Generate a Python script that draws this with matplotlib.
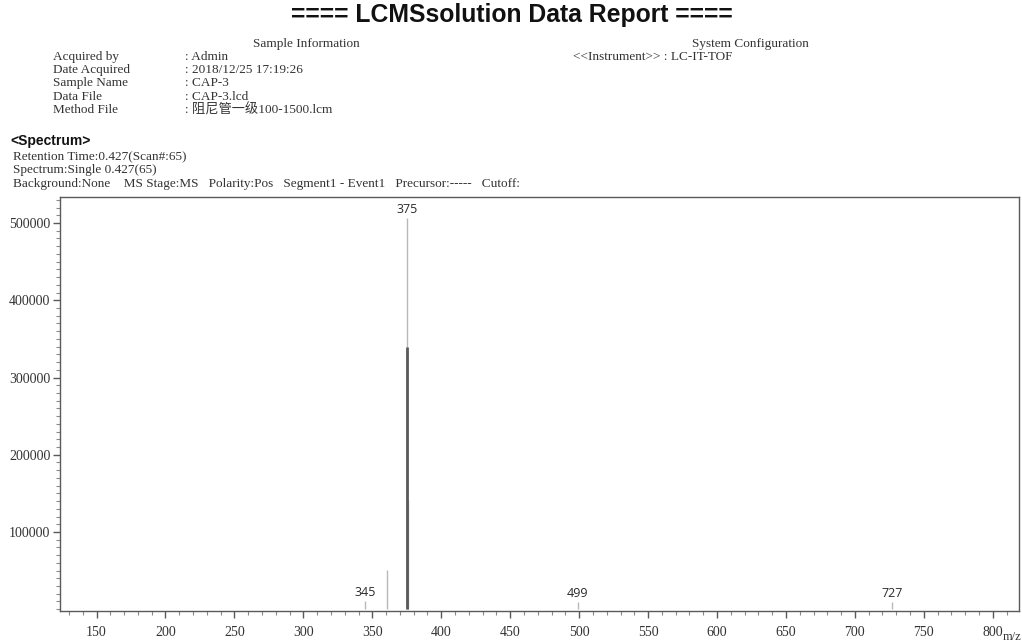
import matplotlib
matplotlib.use("Agg")
import matplotlib.pyplot as plt
from matplotlib.ticker import MultipleLocator, FixedLocator

# Report header
title = "==== LCMSsolution Data Report ===="
info_labels = ["Acquired by", "Date Acquired", "Sample Name", "Data File", "Method File"]
info_values = [": Admin", ": 2018/12/25 17:19:26", ": CAP-3", ": CAP-3.lcd",
               ": 阻尼管一级100-1500.lcm"]
instrument = "<<Instrument>> : LC-IT-TOF"
spectrum_lines = [
    "Retention Time:0.427(Scan#:65)",
    "Spectrum:Single 0.427(65)",
    "Background:None    MS Stage:MS   Polarity:Pos   Segment1 - Event1   Precursor:-----   Cutoff:",
]

# Centroid peaks (m/z, intensity)
peak_mz = [345.0, 361.0, 375.0, 375.2, 376.0, 499.0, 727.0]
peak_int = [11000, 51000, 506000, 339000, 141000, 9500, 9500]
labelled_mz = [345.0, 375.0, 499.0, 727.0]
label_text = ["345", "375", "499", "727"]
strong_mz = [375.2]

x_ticks = [150, 200, 250, 300, 350, 400, 450, 500, 550, 600, 650, 700, 750, 800]
y_ticks = [100000, 200000, 300000, 400000, 500000]

W, H = 1022, 642
fig = plt.figure(figsize=(W / 100, H / 100), dpi=100)
fig.patch.set_facecolor("white")

serif = ["Liberation Serif", "Noto Sans CJK SC", "DejaVu Sans"]
txt_col = "#333333"
info_size = 9.5

def fx(px):
    return px / W

def fy(py):
    return 1 - py / H

fig.text(fx(512), fy(15), title, ha="center", va="center", fontsize=17.8,
         fontweight="bold", family="Liberation Sans", color="#111111")
fig.text(fx(306), fy(44), "Sample Information", ha="center", va="center",
         fontsize=info_size, family=serif, color=txt_col)
fig.text(fx(750), fy(44), "System Configuration", ha="center", va="center",
         fontsize=info_size, family=serif, color=txt_col)
fig.text(fx(573), fy(57), instrument, ha="left", va="center",
         fontsize=info_size, family=serif, color=txt_col)
for i, (lab, val) in enumerate(zip(info_labels, info_values)):
    y = 57 + i * 13.2
    fig.text(fx(53), fy(y), lab, ha="left", va="center", fontsize=info_size,
             family=serif, color=txt_col)
    fig.text(fx(185), fy(y), val, ha="left", va="center", fontsize=info_size,
             family=serif, color=txt_col)

fig.text(fx(10), fy(141), "<Spectrum>", ha="left", va="center", fontsize=10,
         fontweight="bold", family="Liberation Sans", color="#111111")
for i, line in enumerate(spectrum_lines):
    fig.text(fx(13), fy(157 + i * 13.5), line, ha="left", va="center",
             fontsize=info_size, family=serif, color=txt_col)

# Spectrum axes
left, right, top, bottom = 60, 1019, 197, 611
ax = fig.add_axes([fx(left), fy(bottom), (right - left) / W, (bottom - top) / H])
ax.set_xlim(123.5, 819)
ax.set_ylim(-2300, 533700)

for mz, inten in zip(peak_mz, peak_int):
    strong = mz in strong_mz
    ax.vlines(mz, 0, inten, colors="#5a5a5a" if strong else "#b8b8b8",
              linewidth=2.0 if strong else 1.0, zorder=3 if strong else 2)

for mz, text in zip(labelled_mz, label_text):
    inten = peak_int[peak_mz.index(mz)]
    ax.annotate(text, (mz, inten), xytext=(0, 1.5), textcoords="offset points",
                ha="center", va="bottom", fontsize=9, family="Open Sans",
                color="#2a2a2a")

for sp in ax.spines.values():
    sp.set_color("#5a5a5a")
    sp.set_linewidth(1.0)

ax.xaxis.set_major_locator(FixedLocator(x_ticks))
ax.xaxis.set_minor_locator(MultipleLocator(10))
ax.yaxis.set_major_locator(FixedLocator(y_ticks))
ax.yaxis.set_minor_locator(MultipleLocator(10000))
ax.tick_params(which="major", direction="out", length=5, width=1.0,
               color="#5a5a5a", labelsize=10, labelcolor="#333333", pad=2)
ax.tick_params(axis="x", which="major", pad=6)
ax.tick_params(which="minor", direction="out", length=3, width=0.8,
               color="#8a8a8a")
for lab in ax.get_xticklabels() + ax.get_yticklabels():
    lab.set_family("Liberation Serif")

fig.text(fx(1012), fy(637), "m/z", ha="center", va="center", fontsize=9,
         family="Liberation Serif", color=txt_col)

fig.savefig("out.png", dpi=100, facecolor="white")
